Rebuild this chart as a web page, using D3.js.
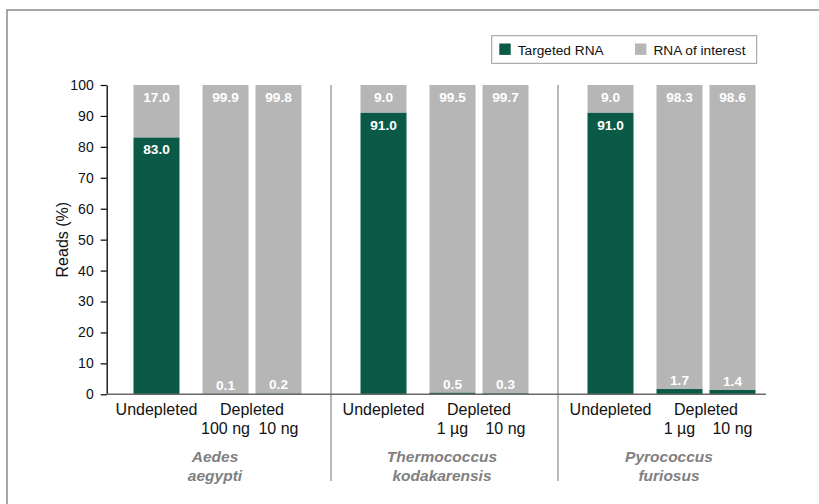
<!DOCTYPE html>
<html>
<head>
  <meta charset="utf-8"/>
  <title>Reads after depletion</title>
  <script src="https://d3js.org/d3.v7.min.js"></script>
<style>
body { margin: 0; background: #fff; }
svg { display: block; font-family: "Liberation Sans", Arial, sans-serif; }
.tick text { font-size: 14px; fill: #111; }
.cond { font-size: 16px; fill: #111; text-anchor: middle; }
.species { font-size: 15.5px; fill: #808080; font-weight: bold; font-style: italic; text-anchor: middle; }
.val { font-size: 13.7px; font-weight: bold; fill: #fff; text-anchor: middle; }
</style>
</head>
<body>
<svg id="chart" width="819" height="504"></svg>
<script>
// data
var species = [["Aedes", "aegypti"], ["Thermococcus", "kodakarensis"], ["Pyrococcus", "furiosus"]];
var doses = [["100 ng", "10 ng"], ["1 µg", "10 ng"], ["1 µg", "10 ng"]];
var targeted = [[83.0, 0.1, 0.2], [91.0, 0.5, 0.3], [91.0, 1.7, 1.4]];
var interest = [[17.0, 99.9, 99.8], [9.0, 99.5, 99.7], [9.0, 98.3, 98.6]];
var yTicks = [0, 10, 20, 30, 40, 50, 60, 70, 80, 90, 100];
var seriesNames = ["Targeted RNA", "RNA of interest"];

var green = "#0b5a47", grey = "#b5b6b5";
var svg = d3.select("#chart");

// outer frame (right and bottom edges fall outside the picture)
svg.append("rect").attr("x", 7).attr("y", 10).attr("width", 830).attr("height", 520)
  .attr("fill", "none").attr("stroke", "#8a8a8a").attr("stroke-width", 1.5);

var x0 = d3.scaleBand().domain([0, 1, 2]).range([104, 785]);
var xIn = d3.scaleOrdinal().domain([0, 1, 2]).range([29.5, 98.5, 151.5]);
var barW = 46;
var y = d3.scaleLinear().domain([0, 100]).range([394.3, 85]);

// group separators
svg.selectAll("line.sep").data([1, 2]).enter().append("line")
  .attr("x1", function(d) { return x0(d); }).attr("x2", function(d) { return x0(d); })
  .attr("y1", y(100)).attr("y2", 481)
  .attr("stroke", "#a0a0a0").attr("stroke-width", 1.5);

// bars
var cells = [];
species.forEach(function(s, g) {
  targeted[g].forEach(function(t, i) {
    cells.push({ g: g, i: i, t: t, r: interest[g][i] });
  });
});
function bx(d) { return x0(d.g) + xIn(d.i); }

var bar = svg.selectAll("g.bar").data(cells).enter().append("g").attr("class", "bar");
bar.append("rect")
  .attr("x", bx).attr("width", barW)
  .attr("y", function(d) { return y(d.t + d.r); })
  .attr("height", function(d) { return y(d.t) - y(d.t + d.r); })
  .attr("fill", grey);
bar.append("rect")
  .attr("x", bx).attr("width", barW)
  .attr("y", function(d) { return y(d.t); })
  .attr("height", function(d) { return y(0) - y(d.t); })
  .attr("fill", green);

// value labels
bar.append("text").attr("class", "val")
  .attr("x", function(d) { return bx(d) + barW / 2; })
  .attr("y", function(d) { return d.t > 10 ? y(d.t) + 12 : y(d.t) - 9; })
  .attr("dy", "0.35em")
  .text(function(d) { return d.t.toFixed(1); });
bar.append("text").attr("class", "val")
  .attr("x", function(d) { return bx(d) + barW / 2; })
  .attr("y", function(d) { return y(d.t + d.r) + 12; })
  .attr("dy", "0.35em")
  .text(function(d) { return d.r.toFixed(1); });

// y axis
var yAxis = svg.append("g").attr("transform", "translate(106.7,0)")
  .call(d3.axisLeft(y).tickValues(yTicks).tickSize(6).tickPadding(7).tickSizeOuter(0));
yAxis.select(".domain").attr("stroke", "#000").attr("stroke-width", 1.3);
yAxis.selectAll(".tick line").attr("stroke", "#000").attr("stroke-width", 1.2);
yAxis.selectAll(".tick text").attr("font-family", null).attr("font-size", null);

svg.append("text").attr("transform", "translate(62," + (y(50)) + ") rotate(-90)")
  .attr("text-anchor", "middle").attr("dy", "0.35em")
  .style("font-size", "16px").style("fill", "#111").text("Reads (%)");

// x axis line
svg.append("line").attr("x1", 106.7).attr("x2", 766).attr("y1", y(0)).attr("y2", y(0))
  .attr("stroke", "#6a6a6a").attr("stroke-width", 1.5);

// category labels
species.forEach(function(s, g) {
  var gx = x0(g);
  svg.append("text").attr("class", "cond")
    .attr("x", gx + xIn(0) + barW / 2).attr("y", 409).attr("dy", "0.35em").text("Undepleted");
  svg.append("text").attr("class", "cond")
    .attr("x", gx + (xIn(1) + xIn(2) + barW) / 2).attr("y", 409).attr("dy", "0.35em").text("Depleted");
  doses[g].forEach(function(dz, k) {
    svg.append("text").attr("class", "cond")
      .attr("x", gx + xIn(k + 1) + barW / 2).attr("y", 428).attr("dy", "0.35em").text(dz);
  });
  s.forEach(function(line, k) {
    svg.append("text").attr("class", "species")
      .attr("x", gx + 111).attr("y", 457 + k * 19).attr("dy", "0.35em").text(line);
  });
});

// legend
var lg = svg.append("g");
lg.append("rect").attr("x", 491.7).attr("y", 35.7).attr("width", 265).attr("height", 27.6)
  .attr("fill", "#fff").attr("stroke", "#999").attr("stroke-width", 1);
var lx = [499.3, 635];
seriesNames.forEach(function(n, i) {
  lg.append("rect").attr("x", lx[i]).attr("y", 43.5).attr("width", 11.4).attr("height", 11.4)
    .attr("fill", i === 0 ? green : grey);
  lg.append("text").attr("x", lx[i] + 18.4).attr("y", 50).attr("dy", "0.35em")
    .style("font-size", "13.7px").style("fill", "#111").text(n);
});
</script>
</body>
</html>
